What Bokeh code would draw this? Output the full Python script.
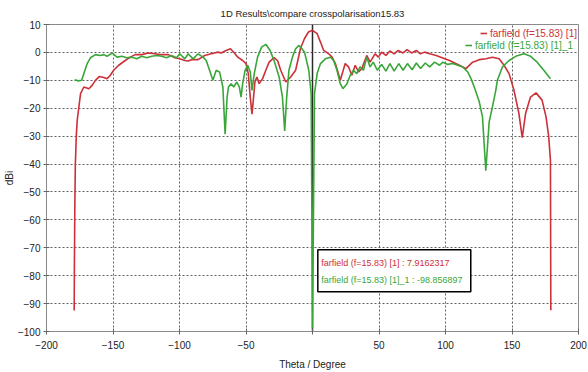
from bokeh.plotting import figure
from bokeh.models import (Legend, LegendItem, BoxAnnotation, Label, Span,
                          FixedTicker, ColumnDataSource)
from bokeh.embed import file_html
from bokeh.resources import INLINE

# ---------------- data ----------------
theta_red = [-179.2, -179.0, -178.7, -178.3, -177.6, -176.9, -174.4, -171.9, -168.1, -165.7,
             -163.2, -160.2, -156.9, -154.5, -152.0, -149.5, -145.7, -140.8, -137.0, -133.3,
             -128.4, -123.4, -118.4, -114.7, -108.4, -103.5, -99.8, -96.0, -93.5, -91.0,
             -86.0, -81.1, -76.1, -71.1, -68.7, -64.9, -61.7, -58.7, -56.2, -52.5,
             -50.0, -48.3, -46.8, -45.5, -44.3, -43.3, -41.8, -40.1, -37.5, -35.1,
             -32.6, -28.9, -26.3, -23.9, -20.1, -16.4, -12.7, -9.0, -6.0, -3.0,
             0.0, 3.5, 6.0, 8.4, 12.2, 14.7, 17.2, 20.9, 24.6, 27.1,
             29.6, 32.1, 34.6, 37.1, 40.8, 43.3, 47.0, 49.5, 52.0, 55.2,
             58.2, 61.4, 64.4, 68.1, 71.1, 74.4, 78.1, 81.1, 84.3, 88.1,
             93.0, 98.0, 103.0, 110.4, 115.4, 120.4, 125.4, 130.4, 135.3, 140.3,
             144.0, 147.8, 151.5, 155.2, 157.7, 160.2, 163.9, 168.1, 172.6, 175.6,
             177.6, 178.9, 179.2]
db_red = [-92.5, -75.0, -55.0, -40.0, -30.0, -24.3, -14.8, -12.4, -13.0, -11.8,
          -10.0, -8.6, -9.0, -9.4, -8.2, -6.4, -4.6, -2.9, -1.7, -0.8,
          -0.8, -0.2, -0.5, -0.8, -0.8, -1.9, -2.3, -2.9, -3.1, -2.6,
          -2.6, -1.1, -0.5, 0.1, -0.2, 0.7, 1.3, -0.2, -1.7, -2.9,
          -4.0, -7.6, -16.0, -22.1, -16.0, -10.6, -8.8, -11.2, -9.4, -6.4,
          -3.5, -1.9, -2.9, -6.4, -10.6, -8.8, -6.4, 1.5, 5.0, 7.3,
          7.9162317, 6.7, 3.7, 0.7, -0.5, -1.7, -4.0, -10.0, -4.0, -5.2,
          -8.2, -4.6, -7.0, -5.8, -1.1, -3.5, -0.5, -1.7, 0.1, -1.1,
          0.5, -0.5, 0.7, -0.2, 1.0, -0.2, 0.7, -0.5, 0.1, -0.5,
          -1.1, -2.0, -2.9, -4.6, -5.8, -3.5, -2.6, -2.3, -1.7, -2.3,
          -4.6, -7.6, -13.6, -21.9, -30.5, -21.9, -16.0, -14.5, -17.1, -23.1,
          -30.2, -38.6, -92.4]

theta_green = [-178.9, -176.1, -173.6, -171.9, -169.4, -166.9, -163.2, -159.5, -156.9, -154.5,
               -150.7, -147.0, -143.3, -139.6, -135.8, -132.1, -128.4, -124.6, -120.9, -117.2,
               -113.4, -109.7, -106.0, -102.2, -99.8, -96.0, -93.5, -89.8, -86.0, -82.3,
               -79.9, -77.4, -74.9, -72.4, -69.9, -67.4, -65.7, -64.2, -63.2, -61.2,
               -59.2, -56.9, -55.0, -53.7, -52.5, -50.7, -48.7, -46.8, -45.5, -43.8,
               -41.3, -38.3, -35.1, -31.9, -28.9, -25.1, -22.6, -20.9, -19.4, -17.7,
               -15.1, -12.7, -10.2, -9.0, -6.0, -2.8, -1.0, 0.0, 1.5, 3.5,
               6.0, 9.7, 13.4, 15.9, 18.4, 20.9, 22.9, 25.9, 28.4, 30.8,
               33.3, 35.8, 38.3, 40.8, 43.3, 45.7, 48.7, 52.0, 55.2, 58.2,
               61.4, 64.9, 68.1, 71.4, 74.9, 78.1, 81.3, 84.8, 88.1, 91.8,
               95.5, 98.0, 101.7, 105.4, 109.2, 112.9, 116.7, 119.2, 121.6, 125.4,
               127.8, 130.3, 132.8, 135.3, 137.8, 139.0, 142.8, 147.8, 152.8, 159.0,
               164.0, 168.9, 173.9, 178.9]
db_green = [-9.8, -10.2, -10.0, -7.6, -4.0, -1.9, -0.8, -1.1, -0.8, -1.4,
            -0.2, -1.7, -1.4, -1.9, -1.7, -2.3, -1.4, -1.9, -1.4, -1.1,
            -1.4, -1.9, -1.1, -1.9, -0.5, -2.3, -0.5, -2.3, -0.5, -1.7,
            -2.9, -6.4, -10.0, -6.4, -7.0, -12.4, -29.3, -16.0, -12.4, -11.2,
            -12.4, -10.6, -12.4, -16.0, -11.2, -6.4, -4.6, -7.0, -13.6, -7.6,
            -1.7, 1.9, 2.9, 0.7, -2.9, -8.8, -16.0, -28.1, -16.0, -6.4,
            -1.7, 1.3, 2.5, 1.9, 0.1, -6.4, -14.8, -98.856897, -14.8, -7.6,
            -4.0, -2.3, -1.7, -2.9, -6.4, -11.2, -13.0, -11.2, -8.2, -6.4,
            -7.6, -5.2, -6.4, -1.7, -5.2, -3.5, -6.4, -4.3, -6.7, -4.0,
            -6.7, -4.0, -6.4, -4.0, -6.2, -3.8, -5.8, -3.8, -5.2, -3.5,
            -4.6, -3.5, -4.3, -4.0, -4.6, -5.2, -7.0, -9.4, -12.4, -17.7,
            -23.1, -42.4, -25.0, -19.5, -13.6, -10.0, -5.2, -2.9, -1.4, -0.5,
            -1.4, -3.5, -6.4, -9.4]

x_ticks = [-200, -150, -100, -50, 0, 50, 100, 150, 200]
y_ticks = [-100, -90, -80, -70, -60, -50, -40, -30, -20, -10, 0, 10]

marker_theta = 0
marker_red_text = "farfield (f=15.83) [1] : 7.9162317"
marker_green_text = "farfield (f=15.83) [1]_1 : -98.856897"
name_red = "farfield (f=15.83) [1]"
name_green = "farfield (f=15.83) [1]_1"

RED = "#cc3039"
GREEN = "#3aa63a"
FONT = "Liberation Sans"
TXT = "#222222"

# ---------------- figure ----------------
p = figure(width=588, height=372, x_range=(-200, 200), y_range=(-100, 10),
           output_backend="svg", toolbar_location=None,
           min_border_left=45, min_border_right=10, min_border_top=24, min_border_bottom=41,
           title="1D Results\\compare crosspolarisation15.83")
p.title.align = "center"
p.title.vertical_align = "top"
p.title.text_font = FONT
p.title.text_font_size = "9.5px"
p.title.text_font_style = "normal"
p.title.text_color = TXT
p.title.standoff = 8
p.title.offset = 0

p.background_fill_color = "white"
p.border_fill_color = "white"
p.outline_line_color = "#8a8a8a"
p.outline_line_width = 1

for ax in (p.xaxis[0], p.yaxis[0]):
    ax.axis_line_color = "#8a8a8a"
    ax.major_tick_line_color = "#666666"
    ax.major_tick_in = 3
    ax.major_tick_out = 3
    ax.minor_tick_line_color = None
    ax.major_label_text_font = FONT
    ax.major_label_text_font_size = "10px"
    ax.major_label_text_color = TXT
    ax.axis_label_text_font = FONT
    ax.axis_label_text_font_size = "10px"
    ax.axis_label_text_font_style = "normal"
    ax.axis_label_text_color = TXT

p.xaxis.ticker = FixedTicker(ticks=x_ticks)
p.yaxis.ticker = FixedTicker(ticks=y_ticks)
p.xaxis.major_label_overrides = {0: " "}
p.xaxis.axis_label = "Theta / Degree"
p.yaxis.axis_label = "dBi"
p.xaxis.major_label_standoff = 5
p.xaxis.axis_label_standoff = 5
p.yaxis.major_label_standoff = 3
p.yaxis.axis_label_standoff = 0

for g in (p.xgrid[0], p.ygrid[0]):
    g.grid_line_color = "#505050"
    g.grid_line_dash = "2 2"
    g.grid_line_width = 1
    g.grid_line_alpha = 0.9

# marker line at theta = 0
p.add_layout(Span(location=marker_theta, dimension="height", line_color="#2a2a2a",
                  line_width=1.5, level="underlay"))

src_r = ColumnDataSource(dict(x=theta_red, y=db_red))
src_g = ColumnDataSource(dict(x=theta_green, y=db_green))
r_red = p.line("x", "y", source=src_r, line_color=RED, line_width=1.6)
r_green = p.line("x", "y", source=src_g, line_color=GREEN, line_width=1.6)

# legends (two, to colour their texts separately)
leg1 = Legend(items=[LegendItem(label=name_red, renderers=[r_red])],
              location="top_right", margin=1, padding=0, spacing=0,
              label_text_color=RED, label_text_font=FONT, label_text_font_size="10px",
              glyph_width=7, glyph_height=10, label_standoff=3, label_height=16,
              border_line_alpha=0, background_fill_alpha=0)
leg2 = Legend(items=[LegendItem(label=name_green, renderers=[r_green])],
              location="top_right", margin=5, padding=0, spacing=0,
              label_text_color=GREEN, label_text_font=FONT, label_text_font_size="10px",
              glyph_width=7, glyph_height=10, label_standoff=3, label_height=32,
              border_line_alpha=0, background_fill_alpha=0)
p.add_layout(leg1)
p.add_layout(leg2)

# marker read-out box
p.add_layout(BoxAnnotation(left=4, right=119, top=-70.7, bottom=-85.8,
                           fill_color="white", fill_alpha=1.0,
                           line_color="black", line_alpha=1.0, line_width=1.5))
p.add_layout(Label(x=6.5, y=-75.3, text=marker_red_text, text_color=RED,
                   text_font=FONT, text_font_size="9px",
                   text_baseline="middle"))
p.add_layout(Label(x=6.5, y=-81.4, text=marker_green_text, text_color=GREEN,
                   text_font=FONT, text_font_size="9px",
                   text_baseline="middle"))

# boxed "0" tick label for the marker position
p.add_layout(Label(x=marker_theta, y=-105.4, text="0", text_align="center",
                   text_baseline="middle", text_font=FONT,
                   text_font_size="10px", text_color=TXT,
                   border_line_color="black", border_line_width=1,
                   background_fill_color="white", padding=2))

open("out.html", "w").write(file_html(p, INLINE))
